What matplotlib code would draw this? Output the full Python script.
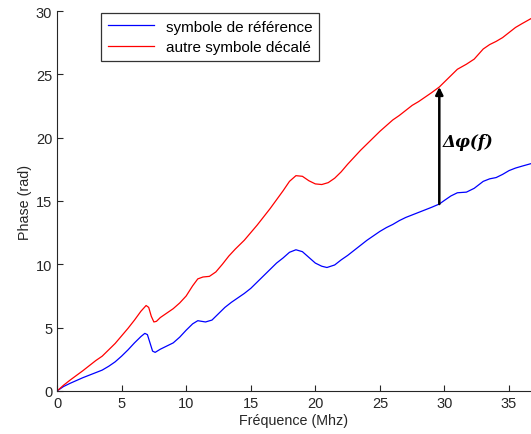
import matplotlib
matplotlib.use("Agg")
import matplotlib.pyplot as plt

# Values (frequency in MHz, phase in rad)
freq_ref = [0, 0.5, 1, 2, 3, 3.5, 4, 4.5, 5, 5.5, 6, 6.5, 6.8, 7.0, 7.2, 7.4, 7.6,
            8, 8.5, 9, 9.5, 10, 10.5, 10.9, 11.5, 12, 12.5, 13, 13.5, 14, 14.5,
            15, 15.5, 16, 16.5, 17, 17.5, 18, 18.5, 19, 19.5, 20, 20.5, 20.9,
            21.5, 22, 22.5, 23, 23.5, 24, 24.5, 25, 25.5, 26, 26.5, 27, 27.5,
            28, 28.5, 29, 29.6, 30, 30.5, 31, 31.7, 32.3, 33, 33.5, 34, 34.5,
            35, 35.5, 36, 36.7]
phase_ref = [0, 0.35, 0.6, 1.05, 1.45, 1.65, 1.95, 2.3, 2.75, 3.25, 3.8, 4.3,
             4.55, 4.45, 3.8, 3.15, 3.05, 3.3, 3.55, 3.8, 4.25, 4.8, 5.3, 5.55,
             5.45, 5.6, 6.1, 6.6, 7.0, 7.35, 7.7, 8.1, 8.6, 9.1, 9.6, 10.1, 10.5,
             10.95, 11.15, 11.0, 10.55, 10.1, 9.85, 9.75, 9.95, 10.35, 10.7, 11.1,
             11.5, 11.9, 12.25, 12.6, 12.9, 13.15, 13.45, 13.7, 13.9, 14.1, 14.3,
             14.5, 14.76, 15.05, 15.4, 15.65, 15.7, 16.0, 16.55, 16.75, 16.85,
             17.1, 17.4, 17.6, 17.75, 17.95]

freq_shift = [0, 0.5, 1, 2, 3, 3.5, 4, 4.5, 5, 5.5, 6, 6.5, 6.9, 7.1, 7.3, 7.5,
              7.7, 8, 8.5, 9, 9.5, 10, 10.5, 10.9, 11.3, 11.8, 12.3, 12.8, 13.3,
              13.8, 14.5, 15, 15.5, 16, 16.5, 17, 17.5, 18, 18.5, 19, 19.5, 20,
              20.5, 21, 21.5, 22, 22.5, 23, 23.5, 24, 24.5, 25, 25.5, 26, 26.5,
              27, 27.5, 28, 28.5, 29, 29.6, 30, 30.5, 31, 31.7, 32.3, 33, 33.5,
              34, 34.5, 35, 35.5, 36, 36.7]
phase_shift = [0, 0.45, 0.85, 1.6, 2.4, 2.75, 3.25, 3.75, 4.35, 4.95, 5.6, 6.3,
               6.75, 6.6, 5.9, 5.45, 5.5, 5.8, 6.15, 6.5, 6.95, 7.5, 8.3, 8.85,
               9.0, 9.05, 9.4, 10.0, 10.65, 11.2, 11.9, 12.5, 13.1, 13.75, 14.4,
               15.1, 15.8, 16.55, 17.0, 16.95, 16.6, 16.35, 16.3, 16.45, 16.8,
               17.3, 17.9, 18.45, 19.0, 19.5, 20.0, 20.5, 20.95, 21.4, 21.75,
               22.15, 22.55, 22.85, 23.2, 23.55, 24.0, 24.4, 24.9, 25.4, 25.8,
               26.2, 27.0, 27.35, 27.6, 27.9, 28.3, 28.7, 29.0, 29.4]

labels = ["symbole de référence", "autre symbole décalé"]
arrow_f = 29.6

plt.rcParams["font.family"] = ["Liberation Sans", "DejaVu Sans"]

fig = plt.figure(figsize=(5.31, 4.35), dpi=100)
ax = fig.add_axes([57 / 531, 43 / 435, 1 - 57 / 531, 380 / 435])

ax.plot(freq_ref, phase_ref, color="#0000ff", lw=0.9, label=labels[0])
ax.plot(freq_shift, phase_shift, color="#ff0000", lw=0.9, label=labels[1])

y0 = phase_ref[freq_ref.index(arrow_f)]
y1 = phase_shift[freq_shift.index(arrow_f)]
ax.annotate("", xy=(arrow_f, y1), xytext=(arrow_f, y0),
            arrowprops=dict(arrowstyle="-|>", color="black", lw=1.8,
                            mutation_scale=11, shrinkA=0, shrinkB=0))
ax.text(arrow_f + 0.3, (y0 + y1) / 2 + 0.3, "Δφ(f)", fontsize=12,
        fontweight="bold", style="italic", family="DejaVu Serif",
        ha="left", va="center")

ax.set_xlim(0, 36.7)
ax.set_ylim(0, 30)
ax.set_xticks(range(0, 36, 5))
ax.set_yticks(range(0, 31, 5))
ax.spines["top"].set_visible(False)
ax.spines["right"].set_visible(False)
for s in ("left", "bottom"):
    ax.spines[s].set_color("#262626")
ax.tick_params(direction="in", length=4, labelsize=10.5, colors="#262626")
ax.set_xlabel("Fréquence (Mhz)", fontsize=10.3, color="#262626", labelpad=2)
ax.set_ylabel("Phase (rad)", fontsize=10.3, color="#262626", labelpad=3)

leg = ax.legend(loc="upper left", bbox_to_anchor=(0.0928, 0.995), fontsize=11,
                frameon=True, fancybox=False, edgecolor="black",
                handlelength=3.0, borderpad=0.45, labelspacing=0.4,
                handletextpad=0.8, borderaxespad=0)
leg.get_frame().set_linewidth(0.9)

fig.savefig("out.png", dpi=100)
